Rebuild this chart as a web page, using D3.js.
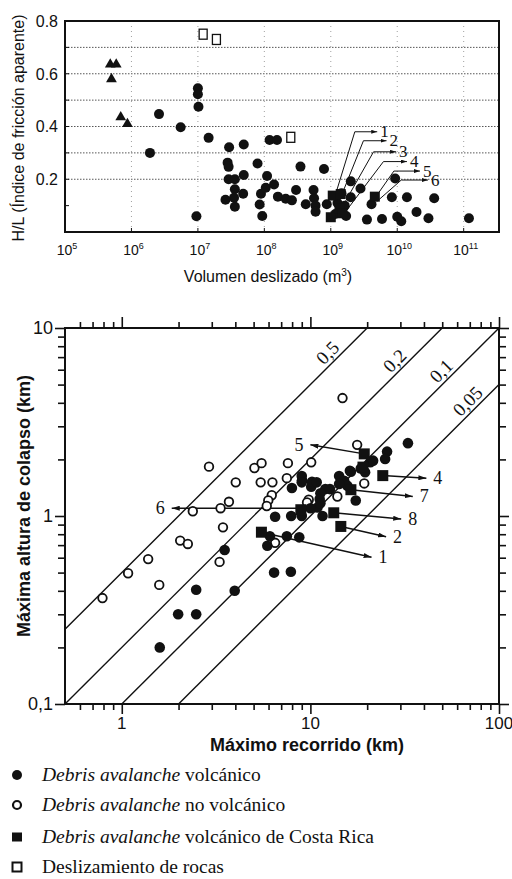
<!DOCTYPE html>
<html><head><meta charset="utf-8">
<script src="https://cdn.jsdelivr.net/npm/d3@7"></script>
<style>body{margin:0;background:#fff}svg{display:block}</style>
</head><body>
<svg id="c" width="512" height="879"></svg>
<script>
// ================= DATA =================
// Top chart: volume (m3) vs H/L
const topVolcanic = [
 [1.9e6,0.30],[2.6e6,0.447],[5.5e6,0.397],[1.0e7,0.545],[1.0e7,0.522],[1.02e7,0.475],[9.5e6,0.06],
 [1.45e7,0.357],[2.95e7,0.321],[4.9e7,0.332],[1.2e8,0.349],[1.55e8,0.349],[2.8e7,0.263],[2.9e7,0.247],
 [7.9e7,0.26],[3.5e8,0.248],[7.9e8,0.239],[2.9e7,0.20],[3.6e7,0.20],[4.9e7,0.216],[1.1e8,0.212],
 [3.6e7,0.162],[4.8e7,0.145],[3.5e7,0.13],[2.6e7,0.122],[3.6e7,0.096],[8.9e7,0.145],[1.05e8,0.168],
 [1.4e8,0.18],[8.5e7,0.104],[9.3e7,0.061],[1.6e8,0.134],[2.1e8,0.126],[2.6e8,0.12],[3.0e8,0.159],
 [4.2e8,0.105],[5.5e8,0.159],[5.6e8,0.128],[5.9e8,0.10],[5.9e8,0.077],[8.7e8,0.105],
 [2.0e9,0.192],[2.8e9,0.165],[2.0e9,0.132],[1.45e9,0.147],[3.5e9,0.047],[5.9e9,0.049],[4.1e9,0.105],
 [9.3e9,0.203],[8.3e9,0.132],[1.4e10,0.132],[1.0e10,0.058],[1.15e10,0.041],[1.95e10,0.076],
 [2.95e10,0.052],[3.6e10,0.128],[1.2e11,0.052],
 [1.26e9,0.11],[1.62e9,0.10],[1.17e9,0.068],[1.7e9,0.061]
];
const topCostaRica = [[1.07e9,0.138],[1.41e9,0.144],[1.0e9,0.056],[1.35e9,0.09],[1.5e9,0.071],[4.6e9,0.134]];
const topRockslide = [[1.2e7,0.75],[1.9e7,0.73],[2.5e8,0.359]];
const topTriangles = [[4.8e5,0.635],[5.9e5,0.635],[5.0e5,0.58],[6.9e5,0.435],[8.7e5,0.41]];
const topArrows = [
 {label:'1', pts:[[1.15e9,0.134],[2.3e9,0.38],[5.0e9,0.38]]},
 {label:'2', pts:[[1.3e9,0.109],[3.1e9,0.346],[6.9e9,0.346]]},
 {label:'3', pts:[[1.45e9,0.09],[4.4e9,0.304],[9.6e9,0.304]]},
 {label:'4', pts:[[1.6e9,0.071],[6.2e9,0.267],[1.4e10,0.267]]},
 {label:'5', pts:[[4.6e9,0.128],[8.9e9,0.231],[2.2e10,0.231]]},
 {label:'6', pts:[[4.9e9,0.115],[1.15e10,0.197],[2.9e10,0.197]]}
];
const topYTicks = [0.2,0.4,0.6,0.8];
const topYMinor = [0.1,0.2,0.3,0.4,0.5,0.6,0.7];
const topGridY = [0.2,0.3,0.4,0.5,0.6,0.7];
const topXExp = [5,6,7,8,9,10,11];

// Bottom chart: runout L (km) vs collapse height H (km)
const bottomVolcanic = [
 [3.51,0.66],[2.48,0.405],[1.99,0.30],[2.48,0.30],[1.59,0.20],[3.97,0.40],
 [7.98,1.41],[9.03,1.55],[9.0,1.63],[10.1,1.43],[10.2,1.52],[10.8,1.51],[12.0,1.39],[12.7,1.39],
 [11.3,1.32],[14.2,1.63],[16.2,1.74],[15.1,1.54],[15.7,1.45],[14.2,1.48],[18.5,1.79],[19.5,1.71],
 [20.8,1.93],[21.5,1.97],[25.5,2.20],[24.9,2.01],[32.9,2.44],[17.4,1.21],[11.6,1.0],[11.2,1.23],
 [10.9,1.11],[11.3,1.17],[10.0,1.10],[9.0,1.0],[7.91,1.0],[6.5,0.99],[7.5,0.78],[8.73,0.77],
 [5.91,0.695],[6.1,0.78],[6.42,0.50],[7.88,0.505],[9.0,1.51],[16.4,1.72]
];
const bottomNonVolcanic = [
 [0.79,0.366],[1.08,0.496],[1.38,0.59],[1.58,0.43],[2.04,0.74],[2.24,0.71],[2.38,1.06],[3.34,1.10],
 [3.70,1.19],[3.44,0.87],[3.30,0.57],[4.02,1.51],[2.9,1.83],[5.05,1.80],[5.51,1.91],[7.6,1.91],
 [10.1,1.93],[5.45,1.51],[6.29,1.51],[7.5,1.59],[6.24,1.29],[5.98,1.21],[5.87,1.13],[9.8,1.22],
 [13.9,1.27],[19.3,1.49],[6.5,0.72],[17.7,2.39],[14.8,4.24],[9.6,1.18]
];
const bottomCostaRica = [[19.3,2.14],[19.0,1.82],[24.2,1.64],[16.4,1.38],[13.3,1.04],[14.5,0.88],[5.5,0.82],[8.9,1.08]];
const bottomArrows = [
 {label:'5', from:[19.3,2.14], to:[10.0,2.39], side:'left'},
 {label:'4', from:[24.2,1.64], to:[41.2,1.59], side:'right'},
 {label:'7', from:[16.4,1.38], to:[34.9,1.27], side:'right'},
 {label:'8', from:[13.3,1.04], to:[30.3,0.964], side:'right'},
 {label:'2', from:[14.5,0.88], to:[25.2,0.776], side:'right'},
 {label:'1', from:[5.5,0.82], to:[21.1,0.603], side:'right'},
 {label:'6', from:[8.9,1.10], to:[1.84,1.10], side:'left'}
];
const ratioLines = [
 {r:0.5, label:'0,5', at:13.5},
 {r:0.2, label:'0,2', at:30.6},
 {r:0.1, label:'0,1', at:54},
 {r:0.05, label:'0,05', at:74.6}
];
const bottomXMajor = [1,10,100];
const bottomXMinor = [0.6,0.7,0.8,0.9,2,3,4,5,6,7,8,9,20,30,40,50,60,70,80,90];
const bottomYMajor = [0.1,1,10];
const bottomYMinor = [0.2,0.3,0.4,0.5,0.6,0.7,0.8,0.9,2,3,4,5,6,7,8,9];

const legendItems = [
 {shape:'filledCircle', italic:'Debris avalanche', rest:' volcánico'},
 {shape:'openCircle', italic:'Debris avalanche', rest:' no volcánico'},
 {shape:'filledSquare', italic:'Debris avalanche', rest:' volcánico de Costa Rica'},
 {shape:'openSquare', italic:'', rest:'Deslizamiento de rocas'}
];

// ================= DRAW =================
const SANS = "'Liberation Sans', Arial, sans-serif";
const SERIF = "'Liberation Serif', 'Times New Roman', serif";
const INK = '#111';
const svg = d3.select('#c');

const defs = svg.append('defs');
function mkArrow(id, w, h){
  defs.append('marker').attr('id',id).attr('viewBox',`0 0 ${w} ${h}`).attr('refX',w).attr('refY',h/2)
    .attr('markerWidth',w).attr('markerHeight',h).attr('markerUnits','userSpaceOnUse').attr('orient','auto')
    .append('path').attr('d',`M0,0L${w},${h/2}L0,${h}Z`).attr('fill',INK);
}
mkArrow('ahS',6,4);
mkArrow('ahB',8,5);

// ---------- Top chart ----------
const T = {l:65, t:21, r:499, b:232};
const xT = d3.scaleLog().domain([1e5, 3.4e11]).range([T.l, T.r]);
const yT = d3.scaleLinear().domain([0, 0.8]).range([T.b, T.t]);
const gT = svg.append('g');

gT.selectAll('line.hg').data(topGridY).join('line')
  .attr('x1',T.l).attr('x2',T.r).attr('y1',d=>yT(d)).attr('y2',d=>yT(d))
  .attr('stroke','#444').attr('stroke-width',0.9).attr('stroke-dasharray','1.5,1.5');
gT.selectAll('line.vg').data(topXExp.slice(1)).join('line')
  .attr('x1',d=>xT(10**d)).attr('x2',d=>xT(10**d)).attr('y1',T.t).attr('y2',T.b)
  .attr('stroke','#888').attr('stroke-width',0.8).attr('stroke-dasharray','1,4');
gT.selectAll('line.yt').data(topYMinor).join('line')
  .attr('x1',T.l).attr('x2',T.l+4).attr('y1',d=>yT(d)).attr('y2',d=>yT(d)).attr('stroke',INK);
gT.selectAll('line.xt').data(topXExp.slice(1)).join('line')
  .attr('x1',d=>xT(10**d)).attr('x2',d=>xT(10**d)).attr('y1',T.b).attr('y2',T.b-4).attr('stroke',INK);
gT.append('rect').attr('x',T.l).attr('y',T.t).attr('width',T.r-T.l).attr('height',T.b-T.t)
  .attr('fill','none').attr('stroke',INK).attr('stroke-width',2);

gT.selectAll('text.yl').data(topYTicks).join('text')
  .attr('x',T.l-7).attr('y',d=>yT(d)).attr('dy','0.36em').attr('text-anchor','end')
  .attr('font-family',SANS).attr('font-size',16).attr('fill',INK).text(d=>d3.format('.1f')(d));
const xl = gT.selectAll('text.xl').data(topXExp).join('text')
  .attr('x',d=>xT(10**d)+2).attr('y',255).attr('text-anchor','middle')
  .attr('font-family',SANS).attr('font-size',14).attr('fill',INK);
xl.append('tspan').text('10');
xl.append('tspan').attr('dy',-6).attr('font-size',9).text(d=>d);
gT.append('text').attr('x',268).attr('y',282).attr('text-anchor','middle')
  .attr('font-family',SANS).attr('font-size',16).attr('fill',INK)
  .html('Volumen deslizado (m<tspan dy="-6" font-size="10">3</tspan><tspan dy="6">)</tspan>');
gT.append('text').attr('transform','translate(24,128) rotate(-90)').attr('text-anchor','middle')
  .attr('font-family',SANS).attr('font-size',16).attr('fill',INK).text('H/L (Índice de fricción aparente)');

const lineT = d3.line().x(d=>xT(d[0])).y(d=>yT(d[1]));
gT.selectAll('path.arr').data(topArrows).join('path')
  .attr('d',d=>lineT(d.pts)).attr('fill','none').attr('stroke',INK).attr('stroke-width',1)
  .attr('marker-end','url(#ahS)');
gT.selectAll('text.al').data(topArrows).join('text')
  .attr('x',d=>xT(d.pts[2][0])+3).attr('y',d=>yT(d.pts[2][1])).attr('dy','0.33em')
  .attr('font-family',SERIF).attr('font-size',17).attr('fill',INK).text(d=>d.label);

gT.selectAll('circle.v').data(topVolcanic).join('circle')
  .attr('cx',d=>xT(d[0])).attr('cy',d=>yT(d[1])).attr('r',5).attr('fill',INK);
gT.selectAll('rect.cr').data(topCostaRica).join('rect')
  .attr('x',d=>xT(d[0])-5).attr('y',d=>yT(d[1])-5).attr('width',10).attr('height',10).attr('fill',INK);
gT.selectAll('rect.rs').data(topRockslide).join('rect')
  .attr('x',d=>xT(d[0])-4).attr('y',d=>yT(d[1])-5).attr('width',8).attr('height',10)
  .attr('fill','#fff').attr('stroke',INK).attr('stroke-width',1.3);
const tri = d3.symbol().type(d3.symbolTriangle).size(50);
gT.selectAll('path.tr').data(topTriangles).join('path')
  .attr('d',tri).attr('transform',d=>`translate(${xT(d[0])},${yT(d[1])})`).attr('fill',INK);

// ---------- Bottom chart ----------
const B = {l:65, t:328, r:499, b:704};
const xB = d3.scaleLog().domain([0.5,100]).range([B.l,B.r]);
const yB = d3.scaleLog().domain([0.1,10]).range([B.b,B.t]);
const gB = svg.append('g');

function styleAxis(g){ g.select('.domain').remove(); g.selectAll('.tick line').attr('stroke',INK).attr('stroke-width',1.6); g.selectAll('.tick text').remove(); }
gB.append('g').attr('transform',`translate(0,${B.b})`).call(d3.axisBottom(xB).tickValues(bottomXMinor).tickSize(6)).call(styleAxis);
gB.append('g').attr('transform',`translate(0,${B.b})`).call(d3.axisBottom(xB).tickValues(bottomXMajor).tickSize(10)).call(styleAxis);
gB.append('g').attr('transform',`translate(0,${B.t})`).call(d3.axisTop(xB).tickValues(bottomXMinor).tickSize(6)).call(styleAxis);
gB.append('g').attr('transform',`translate(0,${B.t})`).call(d3.axisTop(xB).tickValues(bottomXMajor).tickSize(11)).call(styleAxis);
gB.append('g').attr('transform',`translate(${B.l},0)`).call(d3.axisLeft(yB).tickValues(bottomYMinor).tickSize(7)).call(styleAxis);
gB.append('g').attr('transform',`translate(${B.l},0)`).call(d3.axisLeft(yB).tickValues(bottomYMajor).tickSize(10)).call(styleAxis);
gB.append('g').attr('transform',`translate(${B.r},0)`).call(d3.axisRight(yB).tickValues(bottomYMinor).tickSize(7)).call(styleAxis);
gB.append('g').attr('transform',`translate(${B.r},0)`).call(d3.axisRight(yB).tickValues(bottomYMajor).tickSize(10)).call(styleAxis);
gB.append('rect').attr('x',B.l).attr('y',B.t).attr('width',B.r-B.l).attr('height',B.b-B.t)
  .attr('fill','none').attr('stroke',INK).attr('stroke-width',2);

const fmtComma = d => String(d).replace('.',',');
gB.selectAll('text.yl').data(bottomYMajor).join('text')
  .attr('x',B.l-12).attr('y',d=>yB(d)).attr('dy','0.36em').attr('text-anchor','end')
  .attr('font-family',SANS).attr('font-size',18).attr('fill',INK).text(fmtComma);
gB.selectAll('text.xl').data(bottomXMajor).join('text')
  .attr('x',d=>xB(d)).attr('y',729).attr('text-anchor','middle')
  .attr('font-family',SANS).attr('font-size',17).attr('fill',INK).text(fmtComma);
gB.append('text').attr('x',307).attr('y',751).attr('text-anchor','middle')
  .attr('font-family',SANS).attr('font-size',18).attr('font-weight','bold').attr('fill',INK).text('Máximo recorrido (km)');
gB.append('text').attr('transform','translate(30,506) rotate(-90)').attr('text-anchor','middle')
  .attr('font-family',SANS).attr('font-size',18).attr('font-weight','bold').attr('fill',INK).text('Máxima altura de colapso (km)');

gB.selectAll('line.rl').data(ratioLines).join('line')
  .attr('x1',d=>xB(Math.max(0.5,0.1/d.r))).attr('y1',d=>yB(d.r*Math.max(0.5,0.1/d.r)))
  .attr('x2',d=>xB(Math.min(100,10/d.r))).attr('y2',d=>yB(d.r*Math.min(100,10/d.r)))
  .attr('stroke',INK).attr('stroke-width',1.4);
gB.selectAll('text.rl').data(ratioLines).join('text')
  .attr('transform',d=>`translate(${xB(d.at)-7.5},${yB(d.r*d.at)-7.5}) rotate(-45)`)
  .attr('text-anchor','middle').attr('dy','0.35em')
  .attr('font-family',SERIF).attr('font-size',19).attr('fill',INK).text(d=>d.label);

gB.selectAll('line.ar').data(bottomArrows).join('line')
  .attr('x1',d=>xB(d.from[0])).attr('y1',d=>yB(d.from[1])).attr('x2',d=>xB(d.to[0])).attr('y2',d=>yB(d.to[1]))
  .attr('stroke',INK).attr('stroke-width',1.5).attr('marker-end','url(#ahB)');
gB.selectAll('text.al').data(bottomArrows).join('text')
  .attr('x',d=>xB(d.to[0]) + (d.side==='right'?7:-7)).attr('y',d=>yB(d.to[1])).attr('dy','0.33em')
  .attr('text-anchor',d=>d.side==='right'?'start':'end')
  .attr('font-family',SERIF).attr('font-size',18).attr('fill',INK).text(d=>d.label);

gB.selectAll('circle.nv').data(bottomNonVolcanic).join('circle')
  .attr('cx',d=>xB(d[0])).attr('cy',d=>yB(d[1])).attr('r',4.3)
  .attr('fill','#fff').attr('stroke',INK).attr('stroke-width',1.8);
gB.selectAll('circle.v').data(bottomVolcanic).join('circle')
  .attr('cx',d=>xB(d[0])).attr('cy',d=>yB(d[1])).attr('r',5.3).attr('fill',INK);
gB.selectAll('rect.cr').data(bottomCostaRica).join('rect')
  .attr('x',d=>xB(d[0])-5.5).attr('y',d=>yB(d[1])-5.5).attr('width',11).attr('height',11).attr('fill',INK);

// ---------- Legend ----------
const legY = [775,805,837,867];
const gL = svg.append('g');
legendItems.forEach((it,i)=>{
  const y = legY[i];
  if(it.shape==='filledCircle') gL.append('circle').attr('cx',17).attr('cy',y).attr('r',5).attr('fill',INK);
  if(it.shape==='openCircle') gL.append('circle').attr('cx',17).attr('cy',y).attr('r',4).attr('fill','#fff').attr('stroke',INK).attr('stroke-width',2.2);
  if(it.shape==='filledSquare') gL.append('rect').attr('x',12).attr('y',y-4.5).attr('width',10).attr('height',9).attr('fill',INK);
  if(it.shape==='openSquare') gL.append('rect').attr('x',12.5).attr('y',y-4.5).attr('width',9).attr('height',9).attr('fill','#fff').attr('stroke',INK).attr('stroke-width',2);
  const t = gL.append('text').attr('x',42).attr('y',y+6).attr('font-family',SERIF).attr('font-size',19.5).attr('fill',INK);
  if(it.italic) t.append('tspan').attr('font-style','italic').text(it.italic);
  t.append('tspan').text(it.rest);
});
</script>
</body></html>
